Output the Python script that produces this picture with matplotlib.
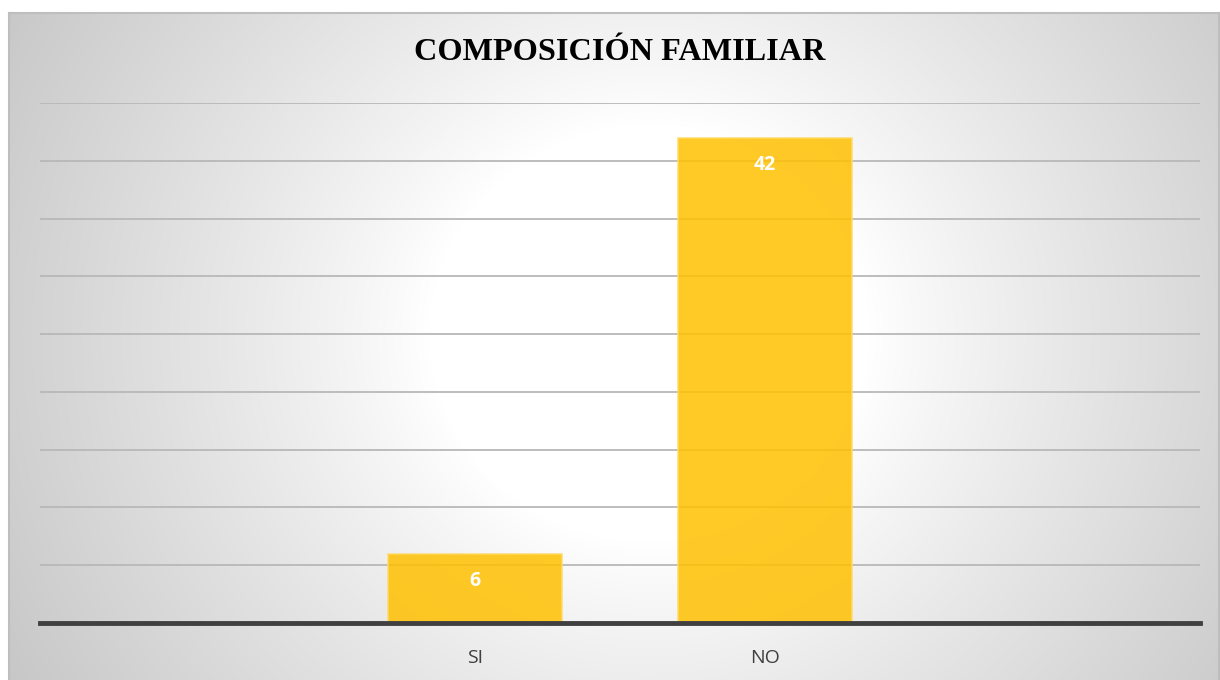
import matplotlib.pyplot as plt
import numpy as np

# data
categories = ['SI', 'NO']
values = [6, 42]
title = 'COMPOSICIÓN FAMILIAR'

fig = plt.figure(figsize=(12.2, 6.8), dpi=100)

# radial gradient panel behind the chart
bg = fig.add_axes([9 / 1220, 0, 1210 / 1220, 667 / 680])
w, h = 1210, 667
yy, xx = np.mgrid[0:h, 0:w]
cx, cy = 640, 320
d = np.sqrt(((xx - cx) / 1.0) ** 2 + ((yy - cy) / 0.95) ** 2)
t = np.clip((d - 220) / 520, 0, 1) ** 0.9
shade = 1.0 - 0.22 * t
bg.imshow(np.dstack([shade] * 3), aspect='auto', extent=(0, 1, 0, 1), origin='upper')
bg.set_xlim(0, 1)
bg.set_ylim(0, 1)
bg.set_xticks([])
bg.set_yticks([])
for s in bg.spines.values():
    s.set_color('#BEBEBE')
    s.set_linewidth(1.5)
bg.spines['bottom'].set_visible(False)

# main axes
ax = fig.add_axes([40 / 1220, 1 - 623 / 680, 1160 / 1220, 520 / 680])
ax.patch.set_alpha(0)
x = np.arange(len(categories))
bars = ax.bar(x, values, width=0.6, color='#FFC000', alpha=0.85,
              edgecolor='#FFD966', linewidth=1.2, zorder=3)
ax.set_xlim(-1.5, 2.5)
ax.set_ylim(0, 45)
ax.set_yticks(np.arange(5, 50, 5))
ax.yaxis.grid(True, color='#B8B8B8', linewidth=1.3, zorder=1)
ax.tick_params(axis='y', left=False, labelleft=False)
ax.tick_params(axis='x', length=0, pad=19, labelsize=14, labelcolor='#404040')
ax.set_xticks(x)
ax.set_xticklabels(categories, family='Open Sans')
for s in ['top', 'right', 'left']:
    ax.spines[s].set_visible(False)
ax.spines['bottom'].set_color('#404040')
ax.spines['bottom'].set_linewidth(3.5)
ax.spines['bottom'].set_zorder(4)

for xi, v in zip(x, values):
    ax.text(xi, v - 2.4, str(v), ha='center', va='center', color='white',
            fontsize=14, fontweight='bold', family='Open Sans', zorder=5)

fig.text(620 / 1220, 1 - 53 / 680, title, ha='center', va='center',
         fontsize=23.2, fontweight='bold', family='Liberation Serif', color='black')

fig.savefig('out.png', dpi=100)
